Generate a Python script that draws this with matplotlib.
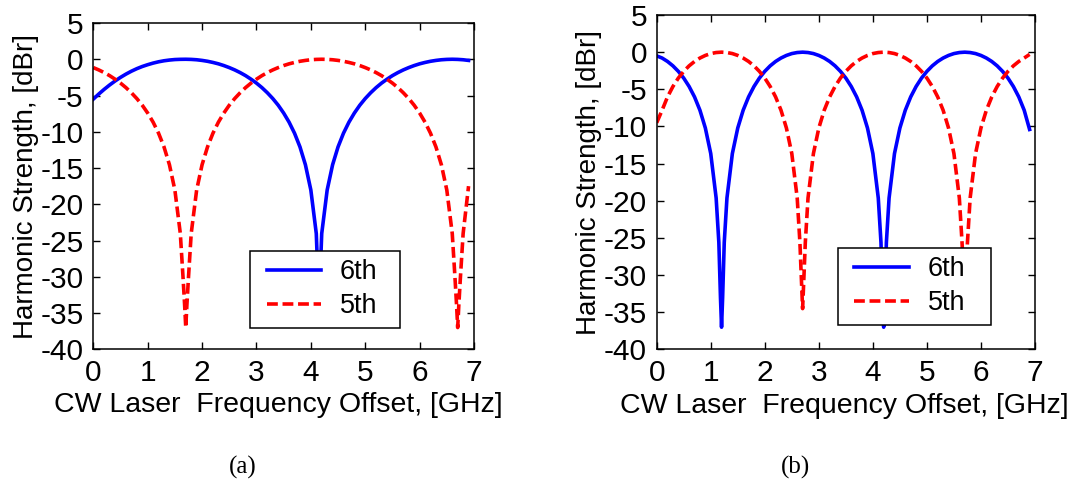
import matplotlib
matplotlib.use("Agg")
import matplotlib.pyplot as plt
from matplotlib.lines import Line2D
from matplotlib.legend_handler import HandlerLine2D

plt.rcParams['font.family'] = ['Liberation Sans', 'DejaVu Sans']
plt.rcParams['axes.unicode_minus'] = False

# ---------------- panel (a) ----------------
freq_a_6th = [0.0, 0.1, 0.2, 0.3, 0.4, 0.5, 0.6, 0.7, 0.8, 0.9, 1.0, 1.1, 1.2, 1.3, 1.4, 1.5, 1.6, 1.7,
              1.8, 1.9, 2.0, 2.1, 2.2, 2.3, 2.4, 2.5, 2.6, 2.7, 2.8, 2.9, 3.0, 3.1, 3.2, 3.3, 3.4, 3.5,
              3.6, 3.7, 3.8, 3.9, 4.0, 4.1, 4.12, 4.15, 4.18, 4.2, 4.3, 4.4, 4.5, 4.6, 4.7, 4.8, 4.9,
              5.0, 5.1, 5.2, 5.3, 5.4, 5.5, 5.6, 5.7, 5.8, 5.9, 6.0, 6.1, 6.2, 6.3, 6.4, 6.5, 6.6,
              6.7, 6.8, 6.9]
db_a_6th = [-5.5, -4.8, -4.15, -3.55, -3.0, -2.5, -2.05, -1.65, -1.3, -1.0, -0.75, -0.53, -0.35, -0.21,
            -0.11, -0.04, -0.01, 0.0,
            -0.02, -0.07, -0.16, -0.28, -0.44, -0.63, -0.87, -1.15, -1.47, -1.84, -2.26, -2.75, -3.29,
            -3.91, -4.62, -5.42, -6.34, -7.42, -8.68, -10.2, -12.09, -14.55, -18.04, -24.04, -28.0,
            -35.0, -28.0, -24.04, -18.04, -14.55, -12.09, -10.2, -8.68, -7.42, -6.34,
            -5.42, -4.62, -3.91, -3.29, -2.75, -2.26, -1.84, -1.47, -1.15, -0.87, -0.63, -0.44, -0.28,
            -0.16, -0.07, -0.02, 0.0, -0.02, -0.07, -0.16]

freq_a_5th = [0.0, 0.1, 0.2, 0.3, 0.4, 0.5, 0.6, 0.7, 0.8, 0.9, 1.0, 1.1, 1.2, 1.3, 1.4, 1.5, 1.6, 1.65,
              1.68, 1.7, 1.72, 1.75, 1.8, 1.9, 2.0, 2.1, 2.2, 2.3, 2.4, 2.5, 2.6, 2.7, 2.8, 2.9, 3.0,
              3.1, 3.2, 3.3, 3.4, 3.5, 3.6, 3.7, 3.8, 3.9, 4.0, 4.1, 4.2, 4.3, 4.4, 4.5, 4.6, 4.7, 4.8,
              4.9, 5.0, 5.1, 5.2, 5.3, 5.4, 5.5, 5.6, 5.7, 5.8, 5.9, 6.0, 6.1, 6.2, 6.3, 6.4, 6.5,
              6.6, 6.65, 6.68, 6.7, 6.72, 6.75, 6.8, 6.9]
db_a_5th = [-1.15, -1.47, -1.84, -2.26, -2.75, -3.29, -3.91, -4.62, -5.42, -6.34, -7.42, -8.68, -10.2,
            -12.09, -14.55, -18.04, -24.04, -30.1, -34.0, -37.0, -34.0, -30.1, -24.04, -18.04, -14.55,
            -12.09, -10.2, -8.68, -7.42, -6.34, -5.42, -4.62, -3.91, -3.29, -2.75, -2.26, -1.84, -1.47,
            -1.15, -0.87, -0.63, -0.44, -0.28, -0.16, -0.07, -0.02, 0.0, -0.02, -0.07, -0.16, -0.28,
            -0.44, -0.63, -0.87, -1.15, -1.47, -1.84, -2.26, -2.75, -3.29, -3.91, -4.62, -5.42, -6.34,
            -7.42, -8.68, -10.2, -12.09, -14.55, -18.04, -24.04, -30.1, -34.0, -37.0, -34.0, -30.1,
            -24.04, -17.5]

# ---------------- panel (b) ----------------
freq_b_6th = [0.0, 0.1, 0.2, 0.3, 0.4, 0.5, 0.6, 0.7, 0.8, 0.9, 1.0, 1.1, 1.15, 1.18, 1.2, 1.22, 1.25,
              1.3, 1.4, 1.5, 1.6, 1.7, 1.8, 1.9, 2.0, 2.1, 2.2, 2.3, 2.4, 2.5, 2.6, 2.7, 2.8, 2.9, 3.0,
              3.1, 3.2, 3.3, 3.4, 3.5, 3.6, 3.7, 3.8, 3.9, 4.0, 4.1, 4.15, 4.18, 4.2, 4.22, 4.25, 4.3,
              4.4, 4.5, 4.6, 4.7, 4.8, 4.9, 5.0, 5.1, 5.2, 5.3, 5.4, 5.5, 5.6, 5.7, 5.8, 5.9, 6.0,
              6.1, 6.2, 6.3, 6.4, 6.5, 6.6, 6.7, 6.8, 6.9]
db_b_6th = [-0.5, -0.79, -1.25, -1.84, -2.58, -3.49, -4.62, -6.02, -7.81, -10.2, -13.64, -19.62, -25.6,
            -33.0, -37.0, -33.0, -25.6, -19.62, -13.64, -10.2, -7.81, -6.02, -4.62, -3.49, -2.58,
            -1.84, -1.25, -0.79, -0.44, -0.19, -0.05, 0.0, -0.05, -0.19, -0.44, -0.79, -1.25, -1.84,
            -2.58, -3.49, -4.62, -6.02, -7.81, -10.2, -13.64, -19.62, -25.6, -33.0, -37.0, -33.0,
            -25.6, -19.62, -13.64, -10.2, -7.81, -6.02, -4.62, -3.49, -2.58, -1.84, -1.25, -0.79,
            -0.44, -0.19, -0.05, 0.0, -0.05, -0.19, -0.44, -0.79, -1.25, -1.84, -2.58, -3.49, -4.62,
            -6.02, -7.81, -10.4]

freq_b_5th = [0.0, 0.1, 0.2, 0.3, 0.4, 0.5, 0.6, 0.7, 0.8, 0.9, 1.0, 1.1, 1.2, 1.3, 1.4, 1.5, 1.6, 1.7,
              1.8, 1.9, 2.0, 2.1, 2.2, 2.3, 2.4, 2.5, 2.6, 2.65, 2.68, 2.7, 2.72, 2.75, 2.8, 2.9, 3.0,
              3.1, 3.2, 3.3, 3.4, 3.5, 3.6, 3.7, 3.8, 3.9, 4.0, 4.1, 4.2, 4.3, 4.4, 4.5, 4.6, 4.7, 4.8,
              4.9, 5.0, 5.1, 5.2, 5.3, 5.4, 5.5, 5.6, 5.65, 5.68, 5.7, 5.72, 5.75, 5.8, 5.9, 6.0,
              6.1, 6.2, 6.3, 6.4, 6.5, 6.6, 6.7, 6.8, 6.9]
db_b_5th = [-9.5, -7.81, -6.02, -4.62, -3.49, -2.58, -1.84, -1.25, -0.79, -0.44, -0.19, -0.05, 0.0,
            -0.05, -0.19, -0.44, -0.79, -1.25, -1.84, -2.58, -3.49, -4.62, -6.02, -7.81, -10.2, -13.64,
            -19.62, -25.6, -31.0, -34.5, -31.0, -25.6, -19.62, -13.64, -10.2, -7.81, -6.02, -4.62,
            -3.49, -2.58, -1.84, -1.25, -0.79, -0.44, -0.19, -0.05, 0.0, -0.05, -0.19, -0.44, -0.79,
            -1.25, -1.84, -2.58, -3.49, -4.62, -6.02, -7.81, -10.2, -13.64, -19.62, -25.6, -30.0,
            -34.0, -30.0, -25.6, -19.62, -13.64, -10.2, -7.81, -6.02, -4.62, -3.49, -2.58, -1.84,
            -1.25, -0.79, -0.3]

x_ticks = [0, 1, 2, 3, 4, 5, 6, 7]
y_ticks = [-40, -35, -30, -25, -20, -15, -10, -5, 0, 5]
series_labels = ["6th", "5th"]
x_label = "CW Laser  Frequency Offset, [GHz]"
y_label = "Harmonic Strength, [dBr]"
captions = ["(a)", "(b)"]

fig = plt.figure(figsize=(10.78, 4.93), dpi=100)
ax1 = fig.add_axes([0.08655, 0.29148, 0.35316, 0.66187])
ax2 = fig.add_axes([0.60918, 0.29108, 0.35093, 0.67850])

panels = [
    (ax1, freq_a_6th, db_a_6th, freq_a_5th, db_a_5th, (0.4116, 0.0667, 0.394, 0.235), 0.487),
    (ax2, freq_b_6th, db_b_6th, freq_b_5th, db_b_5th, (0.479, 0.0744, 0.406, 0.233), 0.495),
]

for ax, f6, d6, f5, d5, lbox, xlx in panels:
    ax.plot(f6, d6, color=(0, 0, 1), lw=2.6, label=series_labels[0])
    ax.plot(f5, d5, color=(1, 0, 0), lw=2.6, ls=(0, (3.0, 1.3)), label=series_labels[1])
    ax.set_xlim(0, 7)
    ax.set_ylim(-40, 5)
    ax.set_xticks(x_ticks)
    ax.set_yticks(y_ticks)
    ax.tick_params(direction='in', top=True, right=True, length=5, width=1,
                   labelsize=21.5, pad=7, colors='black')
    for sp in ax.spines.values():
        sp.set_linewidth(1.1)
    ax.set_xlabel(x_label, fontsize=20.5, labelpad=4)
    ax.xaxis.set_label_coords(xlx, -0.13)
    ax.set_ylabel(y_label, fontsize=20, labelpad=1)
    leg = ax.legend(loc='lower left', bbox_to_anchor=lbox, mode='expand', borderaxespad=0,
                    fontsize=19.5, frameon=True, fancybox=False, shadow=False,
                    handlelength=2.3, handletextpad=0.7, borderpad=0.31,
                    labelspacing=0.29, edgecolor='black',
                    handler_map={Line2D: HandlerLine2D(xpad=0.3)})
    leg.get_frame().set_linewidth(1.1)
    leg.get_frame().set_alpha(1)

fig.text(243 / 1078, 1 - 467 / 493, captions[0], ha='center', va='center',
         fontsize=18, family=['Liberation Serif', 'DejaVu Serif'])
fig.text(795 / 1078, 1 - 467 / 493, captions[1], ha='center', va='center',
         fontsize=18, family=['Liberation Serif', 'DejaVu Serif'])

fig.savefig("out.png", dpi=100)
